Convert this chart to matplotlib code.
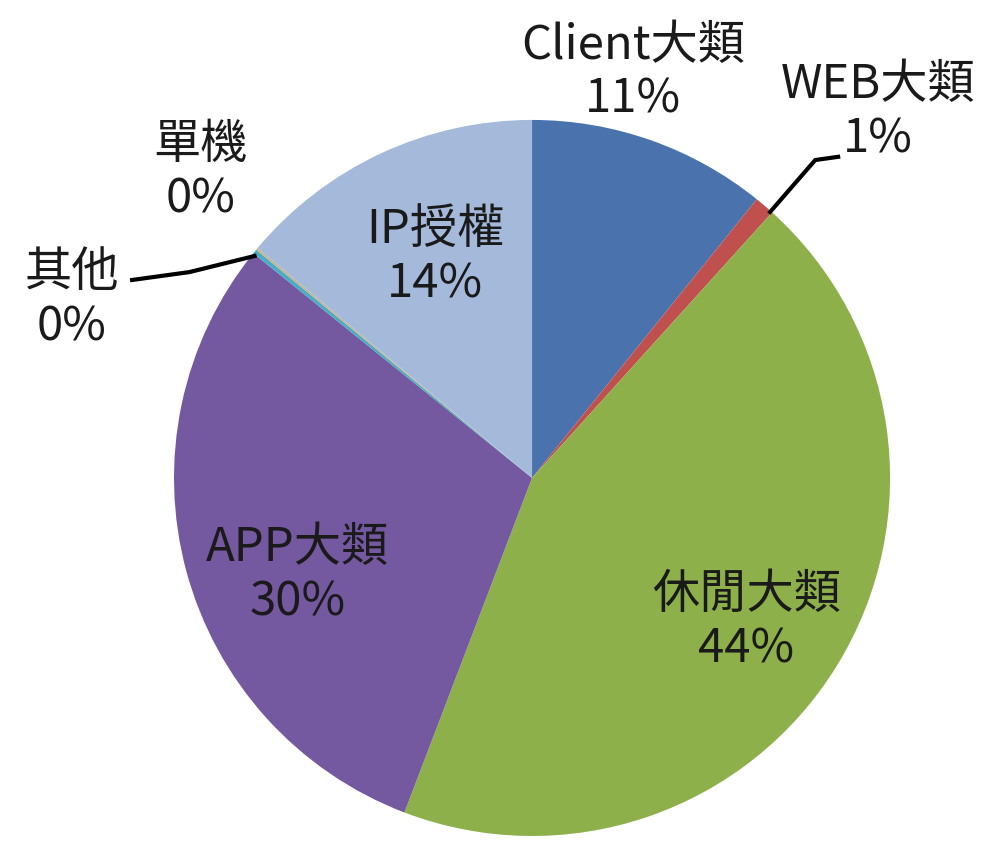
import matplotlib.pyplot as plt

plt.rcParams['font.family'] = ['Noto Sans CJK TC', 'DejaVu Sans']

# 各類別佔比 (%)
categories = ['Client大類', 'WEB大類', '休閒大類', 'APP大類', '其他', '單機', 'IP授權']
shares = [10.8, 0.9, 44.1, 30.0, 0.2, 0.1, 13.9]
colors = ['#4A73AE', '#C0504D', '#8DB04A', '#7458A0', '#4BACC6', '#C8B48C', '#A5B9DA']

fig = plt.figure(figsize=(9.81, 8.43), dpi=100)
ax = fig.add_axes([0, 0, 1, 1])

ax.pie(shares, colors=colors, startangle=90, counterclock=False,
       radius=1.0, wedgeprops=dict(linewidth=0))

ax.set_xlim(-1.486, 1.254)
ax.set_ylim(-1.0196, 1.335)
ax.set_aspect('auto')
ax.axis('off')

# 標籤位置 (以圓半徑為單位)
label_pos = {
    'Client大類': (0.282, 1.132),
    'WEB大類': (0.966, 1.022),
    '休閒大類': (0.598, -0.402),
    'APP大類': (-0.654, -0.271),
    '其他': (-1.285, 0.497),
    '單機': (-0.927, 0.855),
    'IP授權': (-0.271, 0.617),
}

for name, val in zip(categories, shares):
    x, y = label_pos[name]
    ax.text(x, y, f'{name}\n{round(val):d}%', ha='center', va='center',
            fontsize=34, color='#1a1a1a', linespacing=1.15)

# 引導線
ax.plot([0.665, 0.791, 0.855], [0.743, 0.888, 0.897], color='black', lw=3)
ax.plot([-0.775, -0.957, -1.117], [0.620, 0.575, 0.553], color='black', lw=3)

fig.savefig('out.png', dpi=100, facecolor='white')
